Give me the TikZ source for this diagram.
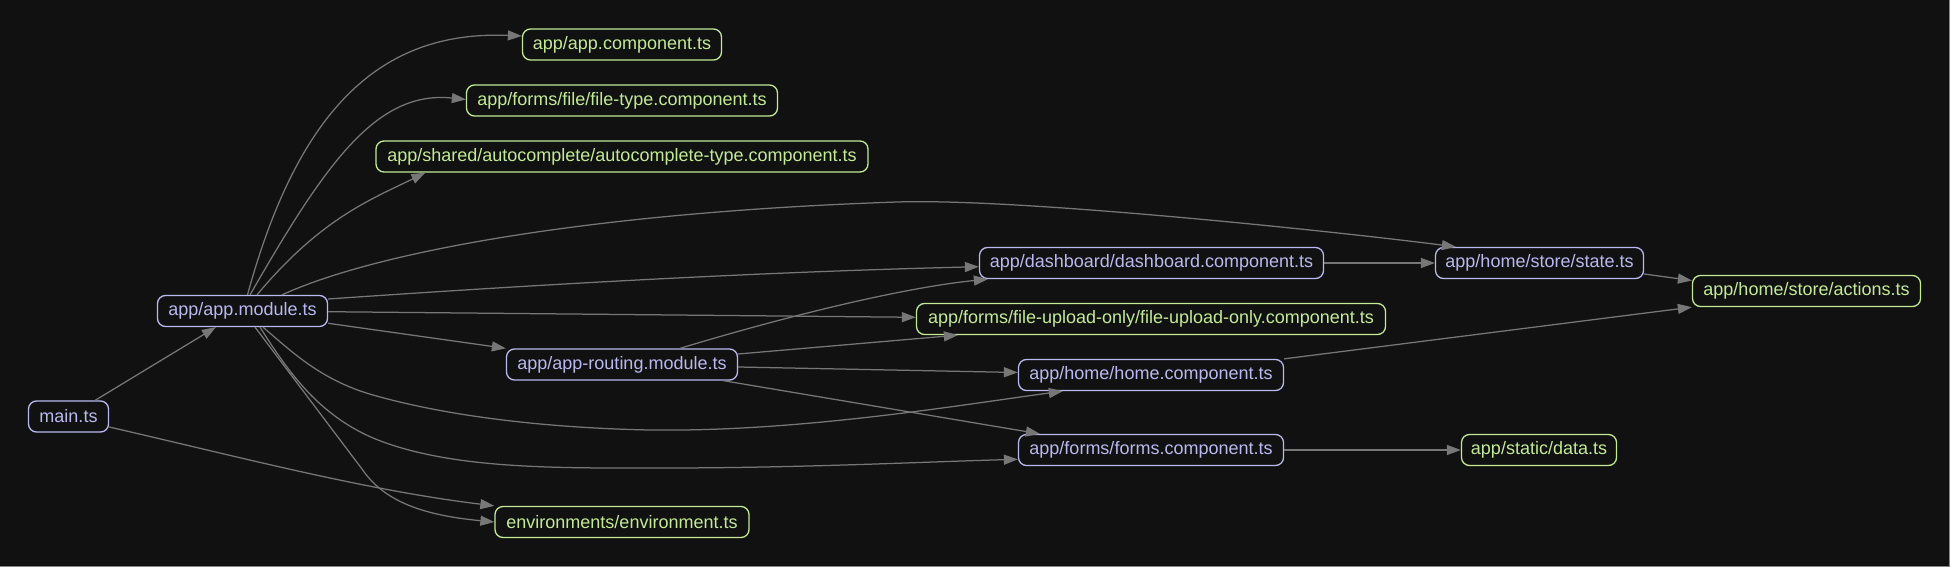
\documentclass[tikz,border=0pt]{standalone}
\usepackage{fontspec}
\setmainfont{Liberation Sans}
\usetikzlibrary{arrows.meta,calc}
\definecolor{bgc}{HTML}{111111}
\definecolor{lav}{HTML}{B9B9F0}
\definecolor{grn}{HTML}{C3EB96}
\definecolor{edgegray}{HTML}{777777}
\definecolor{framegray}{HTML}{858585}
\begin{document}
\begin{tikzpicture}[x=1pt,y=-1pt,
  box/.style={draw, rounded corners=8pt, line width=1.3pt, minimum height=31pt, inner sep=0pt,
              font=\fontsize{18}{21}\selectfont},
  lavbox/.style={box, draw=lav, text=lav},
  grnbox/.style={box, draw=grn, text=grn},
  edge/.style={draw=edgegray, line width=1.25pt, -{Triangle[length=14pt,width=10pt]}}]

\fill[bgc] (0,0) rectangle (1950,567);
\useasboundingbox (0,0) rectangle (1950,567);
\draw[framegray, line width=1.5pt] (1949.25,0) -- (1949.25,566.25) -- (0,566.25);

% nodes
\node[lavbox, minimum width=80pt]  (main)     at (68.5,416.5) {main.ts};
\node[lavbox, minimum width=170pt] (appmod)   at (242.5,311) {app/app.module.ts};
\node[grnbox, minimum width=199pt] (appcomp)  at (622,44.5) {app/app.component.ts};
\node[grnbox, minimum width=311pt] (filetype) at (622,100.5) {app/forms/file/file-type.component.ts};
\node[grnbox, minimum width=492pt] (autocomp) at (622,156.5) {app/shared/autocomplete/autocomplete-type.component.ts};
\node[lavbox, minimum width=231pt] (routing)  at (622,364.5) {app/app-routing.module.ts};
\node[grnbox, minimum width=254pt] (env)      at (622,522) {environments/environment.ts};
\node[lavbox, minimum width=344pt] (dash)     at (1151.5,263) {app/dashboard/dashboard.component.ts};
\node[grnbox, minimum width=469pt] (upload)   at (1151,319) {app/forms/file-upload-only/file-upload-only.component.ts};
\node[lavbox, minimum width=265pt] (home)     at (1151,375) {app/home/home.component.ts};
\node[lavbox, minimum width=265pt] (forms)    at (1151,450) {app/forms/forms.component.ts};
\node[lavbox, minimum width=208pt] (state)    at (1539.5,263) {app/home/store/state.ts};
\node[grnbox, minimum width=155pt] (data)     at (1539,450) {app/static/data.ts};
\node[grnbox, minimum width=228pt] (actions)  at (1806.5,291) {app/home/store/actions.ts};

% edges
\draw[edge] (main) -- (appmod);
\draw[edge] ($(main.east)+(0,10.5)$) .. controls (240,457) and (364,490) .. (env.north west);
\draw[edge] ($(appmod.south)+(12.5,0)$) -- (362,469) .. controls (383,500) and (420,515) .. (env.west);
\draw[edge] ($(appmod.north)+(5,0)$) .. controls (298,110) and (380,30) .. ($(appcomp.west)+(0,-8.5)$);
\draw[edge] ($(appmod.north)+(7.5,0)$) .. controls (325,164.5) and (376,90) .. ($(filetype.west)+(0,-1)$);
\draw[edge] ($(appmod.north)+(14.5,0)$) .. controls (321,218) and (372,199) .. ($(autocomp.south west)+(50,0)$);
\draw[edge] ($(appmod.north)+(39.5,0)$) .. controls (380,250) and (600,212) .. (897,202)
            .. controls (1020,198) and (1340,232) .. ($(state.north west)+(21,0)$);
\draw[edge] ($(appmod.east)+(0,-12)$) .. controls (545,284) and (762,272) .. ($(dash.west)+(0,3.7)$);
\draw[edge] ($(appmod.east)+(0,0.7)$) -- ($(upload.west)+(0,-1.7)$);
\draw[edge] ($(appmod.east)+(0,12.3)$) -- (routing.north west);
\draw[edge] ($(appmod.south)+(20.5,0)$) .. controls (290,350) and (320,380) .. (373,395)
            .. controls (450,417) and (550,428) .. (650,430)
            .. controls (800,432) and (960,405) .. ($(home.south west)+(45,0)$);
\draw[edge] ($(appmod.south)+(17.5,0)$) .. controls (290,375) and (320,415) .. (373,438)
            .. controls (450,470) and (560,468) .. (663,468)
            .. controls (800,468) and (920,462) .. ($(forms.west)+(0,9.3)$);

\draw[edge] ($(routing.north)+(58,0)$) .. controls (780,318) and (900,288) .. ($(dash.south west)+(9,0)$);
\draw[edge] ($(routing.east)+(0,-10.5)$) -- ($(upload.south west)+(42,0)$);
\draw[edge] ($(routing.east)+(0,2.5)$) -- ($(home.west)+(0,-2.5)$);
\draw[edge] ($(routing.south east)+(-15,0)$) -- ($(forms.north west)+(22,0)$);

\draw[edge] (dash) -- (state);
\draw[edge] ($(state.east)+(0,11)$) -- ($(actions.west)+(0,-10.5)$);
\draw[edge] (home.north east) -- (actions.south west);
\draw[edge] (forms) -- (data);
\end{tikzpicture}
\end{document}
